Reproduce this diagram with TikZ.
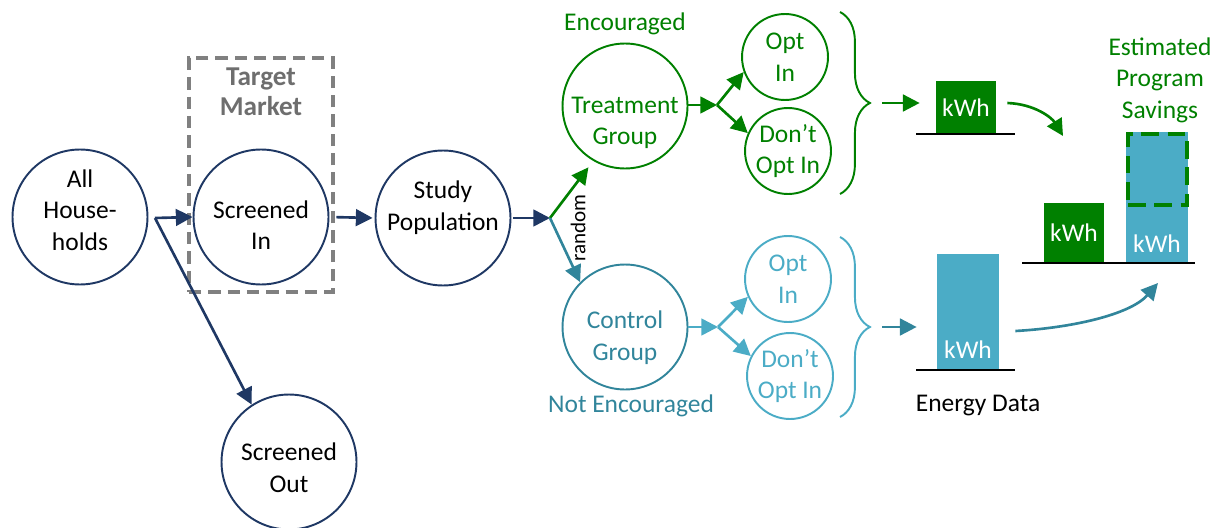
\documentclass[tikz,border=0pt]{standalone}
\usepackage{fontspec}
\setmainfont{Carlito}
\usepackage{tikz}
\usetikzlibrary{arrows.meta,positioning,decorations.pathreplacing}
\definecolor{navy}{RGB}{31,56,100}
\definecolor{dgreen}{RGB}{0,128,0}
\definecolor{lteal}{RGB}{75,172,198}
\definecolor{dteal}{RGB}{49,133,155}
\definecolor{boxgray}{RGB}{128,128,128}
\definecolor{lblgray}{RGB}{110,110,110}

\begin{document}
\begin{tikzpicture}[x=0.02cm,y=-0.02cm,>={Triangle[length=9.5pt,width=9.5pt]},
  every node/.style={font=\fontsize{14.5}{18}\selectfont},
  hh/.style={draw=navy,circle,line width=1.1pt,minimum size=2.7cm,inner sep=0pt,align=center},
  grp/.style={circle,line width=1.1pt,minimum size=2.5cm,inner sep=0pt,align=center},
  opt/.style={circle,line width=1.1pt,minimum size=1.72cm,inner sep=0pt,align=center},
  ctxt/.style={align=center,inner sep=0pt},
  arr/.style={->,line width=1.5pt},
  bar/.style={minimum width=1.2cm,inner sep=0pt,text=white},
  baseln/.style={line width=1.2pt,black},
  brc/.style={decorate,decoration={brace,amplitude=17pt},line width=1.1pt}]
\useasboundingbox (0,0) rectangle (1216,527);

% screening
\node[draw=boxgray,line width=1.9pt,dash pattern=on 7pt off 4pt,minimum width=2.88cm,minimum height=4.68cm] (tmkt) at (261,175) {};
\node[text=lblgray,font=\fontsize{15.5}{17}\selectfont\bfseries,align=center] (tmlbl) at (261,92) {Target\\Market};
\node[hh,label={[ctxt,yshift=0.14cm]center:All\\House-\\holds}] (allhh) at (80,217) {};
\node[hh,label={[ctxt,yshift=-0.16cm]center:Screened\\In}] (scrin) at (261,217) {};
\node[hh,label={[ctxt,yshift=-0.12cm]center:Screened\\Out}] (scrout) at (289,462) {};
\node[hh,label={[ctxt,yshift=0.2cm]center:Study\\Population}] (study) at (443,218) {};
\coordinate (sp1) at (155,218);
\draw[arr,navy] (sp1) -- (scrin.west);
\draw[arr,navy] (sp1) -- (scrout.123);
\draw[arr,navy,shorten <=0.14cm,shorten >=0.04cm] (scrin.east) -- (study.west);
\coordinate (sp2) at (550,218);
\draw[arr,navy,shorten <=0.04cm] (study.east) -- (sp2);

% random assignment
\node[grp,draw=dgreen,label={[ctxt,text=dgreen,yshift=-0.34cm]center:Treatment\\Group}] (treat) at (625,106) {};
\node[grp,draw=dteal,label={[ctxt,text=dteal,yshift=-0.22cm]center:Control\\Group}] (ctrl) at (625,327) {};
\draw[arr,dgreen,shorten >=0.16cm] (sp2) -- (treat.240);
\draw[arr,dteal] (sp2) -- (ctrl.135);
\node[rotate=90,font=\fontsize{12}{14}\selectfont] (rnd) at (578,228) {random};
\node[text=dgreen] (enc) at (625,24) {Encouraged};
\node[text=dteal] (nenc) at (631,406) {Not Encouraged};

% opt in / don't opt in
\node[opt,draw=dgreen,text=dgreen] (gin) at (785,57) {Opt\\In};
\node[opt,draw=dgreen,text=dgreen] (gout) at (788,151) {Don’t\\Opt In};
\node[opt,draw=lteal,text=lteal] (cin) at (788,279) {Opt\\In};
\node[opt,draw=lteal,text=lteal] (cout) at (790,376) {Don’t\\Opt In};
\coordinate (sp3) at (717,105);
\draw[arr,dgreen] (treat.east |- sp3) -- (sp3);
\draw[arr,dgreen] (sp3) -- (gin.200);
\draw[arr,dgreen] (sp3) -- (gout.156);
\coordinate (sp4) at (718,327);
\draw[arr,lteal] (ctrl.east) -- (sp4);
\draw[arr,lteal] (sp4) -- (cin.204);
\draw[arr,lteal] (sp4) -- (cout.153);

% braces
\draw[brc,dgreen] (840,12) -- (840,194);
\coordinate (gbr) at (872,103);
\draw[brc,lteal] (840,237) -- (840,417);
\coordinate (tbr) at (872,327);

% energy data
\node[bar,fill=dgreen,minimum height=1.06cm] (gbar) at (966,107.5) {kWh};
\draw[arr,dgreen,shorten <=0.2cm,shorten >=0.32cm] (gbr) -- (gbr -| gbar.west);
\draw[baseln] (916,134) -- (1015,134);
\node[bar,fill=lteal,minimum width=1.24cm,minimum height=2.32cm] (ebar) at (968,312) {};
\node[text=white] (ekwh) at ([yshift=0.42cm]ebar.south) {kWh};
\draw[arr,dteal,shorten <=0.2cm,shorten >=0.4cm] (tbr) -- (tbr -| ebar.west);
\draw[baseln] (916,370) -- (1015,370);
\node (edata) at (978,406) {Energy Data};

% savings
\node[bar,fill=dgreen,minimum height=1.18cm] (sgbar) at (1074,232.5) {kWh};
\node[bar,fill=lteal,minimum width=1.24cm,minimum height=2.6cm] (stbar) at (1157,197) {};
\node[text=white] (skwh) at ([yshift=0.38cm]stbar.south) {kWh};
\node[draw=dgreen,line width=2.2pt,dash pattern=on 10pt off 5pt,minimum width=1.18cm,minimum height=1.42cm] (sav) at (1157.5,169.5) {};
\draw[baseln] (1022,263) -- (1195,263);
\node[text=dgreen,align=center] (estlbl) at (1160,80) {Estimated\\Program\\Savings};
\coordinate (gend) at (1063,136);
\coordinate (tend) at (1158,283);
\draw[arr,dgreen] ([xshift=0.22cm,yshift=0.09cm]gbar.east) .. controls (1035,104) and (1052,118) .. (gend);
\draw[arr,dteal] ([xshift=0.32cm,yshift=-0.38cm]ebar.east) .. controls (1070,328) and (1130,315) .. (tend);
\end{tikzpicture}
\end{document}
